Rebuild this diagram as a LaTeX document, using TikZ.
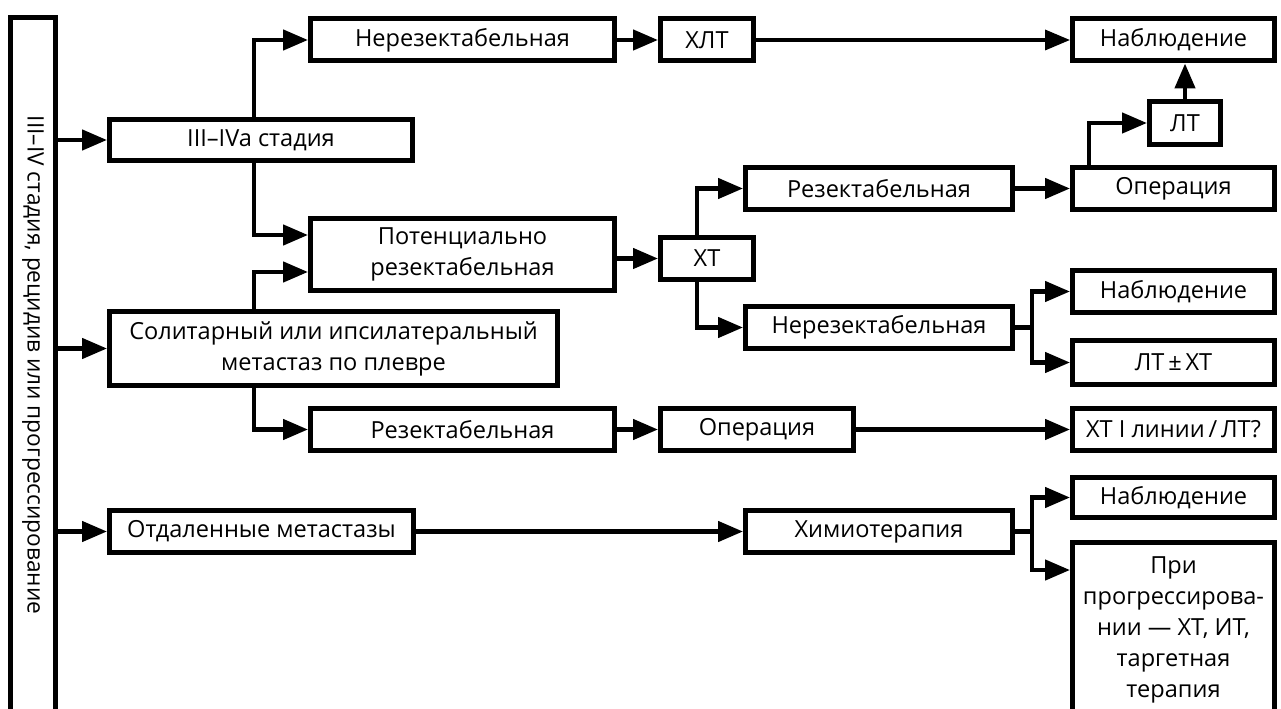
\documentclass[tikz,border=0pt]{standalone}
\usepackage{fontspec}
\setmainfont{Open Sans}
\usetikzlibrary{arrows.meta}

\begin{document}
\begin{tikzpicture}[x=0.02cm,y=-0.02cm,
  box/.style={draw,line width=0.1cm,minimum height=0.84cm,inner sep=0pt,
    align=center,font=\fontsize{13.4}{17.6}\selectfont},
  arr/.style={line width=0.09cm,-{Triangle[length=0.5cm,width=0.4cm]}},
  link/.style={line width=0.09cm}]
  \clip (0,0) rectangle (1281,709);
  % колонки ветвлений
  \coordinate (ka) at (254,0);
  \coordinate (kb) at (697,0);
  \coordinate (kc) at (1032,0);
  \coordinate (kd) at (1089,0);
  % левая полоса
  \node[box,minimum width=0.9cm,minimum height=13.9cm] (stage) at (33,365) {};
  \node[rotate=-90,font=\fontsize{12.9}{17.6}\selectfont] at (stage) {III–IV стадия, рецидив или прогрессирование};
  % второй столбец
  \node[box,minimum width=6.06cm] (iii) at (261,140) {III–IVa стадия};
  \node[box,minimum width=8.96cm,minimum height=1.48cm] (sol) at (333.5,348.5) {Солитарный или ипсилатеральный\\метастаз по плевре};
  \node[box,minimum width=6.08cm] (dist) at (261.5,531.5) {Отдаленные метастазы};
  % третий столбец
  \node[box,minimum width=6.08cm] (nonresA) at (462.5,40) {Нерезектабельная};
  \node[box,minimum width=6.08cm,minimum height=1.44cm] (pot) at (462.5,254.5) {Потенциально\\резектабельная};
  \node[box,minimum width=6.08cm] (resA) at (462.5,429.5) {Резектабельная};
  % четвертый столбец
  \node[box,minimum width=1.86cm] (hlt) at (707,40) {ХЛТ};
  \node[box,minimum width=1.86cm] (ht) at (707,258.5) {ХТ};
  \node[box,minimum width=3.86cm] (opA) at (757,429.5) {Операция};
  \node[box,minimum width=5.34cm] (resB) at (879,188.5) {Резектабельная};
  \node[box,minimum width=5.34cm] (nonresB) at (879,327.5) {Нерезектабельная};
  \node[box,minimum width=5.34cm] (chemo) at (879,531.5) {Химиотерапия};
  % правый столбец
  \node[box,minimum width=4.04cm] (obsA) at (1173.5,40) {Наблюдение};
  \node[box,minimum width=1.42cm,minimum height=0.86cm] (lt) at (1185,123) {ЛТ};
  \node[box,minimum width=4.04cm] (opB) at (1173.5,188.5) {Операция};
  \node[box,minimum width=4.04cm] (obsB) at (1173.5,291.5) {Наблюдение};
  \node[box,minimum width=4.04cm,minimum height=0.88cm] (ltxt) at (1173.5,362.5) {ЛТ\,±\,ХТ};
  \node[box,minimum width=4.04cm] (xtl) at (1173.5,429.5) {ХТ I линии\,/\,ЛТ?};
  \node[box,minimum width=4.04cm,minimum height=0.8cm] (obsC) at (1173.5,497.5) {Наблюдение};
  \node[box,minimum width=4.04cm,minimum height=3.5cm] (prog) at (1173.5,630) {При\\прогрессирова-\\нии — ХТ, ИТ,\\таргетная\\терапия};
  % связи
  \foreach \t in {iii,sol,dist}
    \draw[arr] (stage.east |- \t) -- (\t);
  \draw[arr] (iii.north -| ka) |- (nonresA);
  \draw[arr] (iii.south -| ka) |- ([yshift=0.39cm]pot.west);
  \draw[arr] (sol.north -| ka) |- ([yshift=-0.35cm]pot.west);
  \draw[arr] (sol.south -| ka) |- (resA);
  \draw[arr] (nonresA) -- (hlt);
  \draw[arr,line width=0.07cm] (hlt) -- (obsA);
  \draw[arr] (pot.east |- ht) -- (ht);
  \draw[arr] (ht.north -| kb) |- (resB);
  \draw[arr] (ht.south -| kb) |- (nonresB);
  \draw[arr] (resB) -- (opB);
  \draw[arr] (opB.north -| kd) |- (lt);
  \draw[arr] (lt) -- (lt |- obsA.south);
  \draw[link] (nonresB.east) -- (nonresB.east -| kc);
  \draw[arr] (nonresB.east -| kc) |- (obsB);
  \draw[arr] (nonresB.east -| kc) |- (ltxt);
  \draw[arr] (resA) -- (opA);
  \draw[arr] (opA) -- (xtl);
  \draw[arr] (dist) -- (chemo);
  \draw[link] (chemo.east) -- (chemo.east -| kc);
  \draw[arr] (chemo.east -| kc) |- (obsC);
  \draw[arr] (chemo.east -| kc) |- ([yshift=-0.6cm]prog.north west);
\end{tikzpicture}
\end{document}
